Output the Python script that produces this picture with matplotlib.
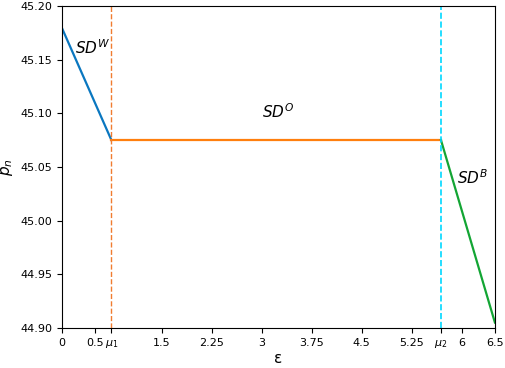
import matplotlib
matplotlib.use("Agg")
import matplotlib.pyplot as plt

# Segment data
mu1 = 0.74
mu2 = 5.69
eps_w = [0, mu1]
pn_w = [45.179, 45.075]
eps_o = [mu1, mu2]
pn_o = [45.075, 45.075]
eps_b = [mu2, 6.5]
pn_b = [45.075, 44.905]

xticks = [0, 0.5, mu1, 1.5, 2.25, 3, 3.75, 4.5, 5.25, mu2, 6, 6.5]
xticklabels = ['0', '0.5', r'$\mu_1$', '1.5', '2.25', '3', '3.75', '4.5', '5.25',
               r'$\mu_2$', '6', '6.5']
yticks = [44.90, 44.95, 45.00, 45.05, 45.10, 45.15, 45.20]

fig = plt.figure(figsize=(5.05, 3.68), dpi=100)
ax = fig.add_axes([0.123, 0.109, 0.857, 0.875])

ax.plot(eps_w, pn_w, color='#0a77c0', linewidth=1.6)
ax.plot(eps_o, pn_o, color='#ff7f0e', linewidth=1.6)
ax.plot(eps_b, pn_b, color='#13a534', linewidth=1.6)

ax.axvline(mu1, color='#f07c30', linestyle='--', linewidth=1.0)
ax.axvline(mu2, color='#00d8ff', linestyle='--', linewidth=1.2)

ax.text(0.2, 45.155, r'$SD^W$', fontsize=11)
ax.text(3.0, 45.096, r'$SD^O$', fontsize=11)
ax.text(5.93, 45.034, r'$SD^B$', fontsize=11)

ax.set_xlim(0, 6.5)
ax.set_ylim(44.90, 45.20)
ax.set_xticks(xticks)
ax.set_xticklabels(xticklabels, fontsize=8)
ax.set_yticks(yticks)
ax.set_yticklabels([f'{v:.2f}' for v in yticks], fontsize=8)
ax.set_xlabel('ε', fontsize=11, labelpad=1)
ax.set_ylabel(r'$p_n$', fontsize=11)

fig.savefig('out.png', dpi=100)
